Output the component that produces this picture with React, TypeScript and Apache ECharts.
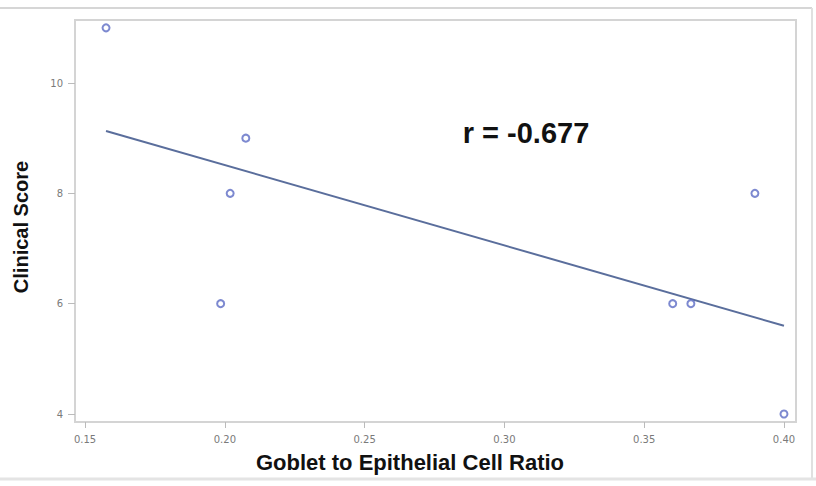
import React, { useEffect, useRef } from "react";
import * as echarts from "echarts";

const ratioValues = [0.1575, 0.2075, 0.2019, 0.1985, 0.3602, 0.3667, 0.3896, 0.4];
const scoreValues = [11, 9, 8, 6, 6, 6, 8, 4];
const fitX = [0.1575, 0.4];
const fitY = [9.13, 5.6];
const xTicks = [0.15, 0.2, 0.25, 0.3, 0.35, 0.4];
const yTicks = [4, 6, 8, 10];
const xTitle = "Goblet to Epithelial Cell Ratio";
const yTitle = "Clinical Score";
const rLabel = "r = -0.677";

export default function App() {
  const ref = useRef<HTMLDivElement>(null);
  useEffect(() => {
    document.body.style.margin = "0";
    const chart = echarts.init(ref.current!, null, { renderer: "svg" });
    const tickLabel = { color: "#7a7a7a", fontSize: 10, fontFamily: "DejaVu Sans" };
    chart.setOption({
      animation: false,
      backgroundColor: "#ffffff",
      grid: {
        left: 75,
        right: 20,
        top: 20,
        bottom: 64,
        show: true,
        borderColor: "#d4d4d4",
        borderWidth: 2,
      },
      xAxis: {
        type: "value",
        min: 0.1464,
        max: 0.4043,
        splitLine: { show: false },
        axisLine: { show: false },
        axisTick: { show: true, length: 6, lineStyle: { color: "#bbbbbb" }, customValues: xTicks },
        axisLabel: {
          ...tickLabel,
          margin: 12,
          customValues: xTicks,
          formatter: (v: number) => v.toFixed(2),
        },
      },
      yAxis: {
        type: "value",
        min: 3.855,
        max: 11.142,
        splitLine: { show: false },
        axisLine: { show: false },
        axisTick: { show: true, length: 7, lineStyle: { color: "#bbbbbb" }, customValues: yTicks },
        axisLabel: { ...tickLabel, margin: 12, customValues: yTicks },
      },
      graphic: [
        { type: "line", shape: { x1: 0, y1: 8, x2: 812, y2: 8 }, style: { stroke: "#d6d6d6", lineWidth: 2 } },
        { type: "line", shape: { x1: 812, y1: 8, x2: 812, y2: 479 }, style: { stroke: "#e0e0e0", lineWidth: 2 } },
        { type: "line", shape: { x1: 0, y1: 479, x2: 816, y2: 479 }, style: { stroke: "#e4e4e4", lineWidth: 3 } },
        {
          type: "text",
          x: 410,
          y: 462,
          style: {
            text: xTitle,
            fontSize: 22,
            fontWeight: "bold",
            fontFamily: "Liberation Sans",
            fill: "#111",
            align: "center",
            verticalAlign: "middle",
          },
        },
        {
          type: "text",
          x: 21,
          y: 227,
          rotation: Math.PI / 2,
          style: {
            text: yTitle,
            fontSize: 20,
            fontWeight: "bold",
            fontFamily: "Liberation Sans",
            fill: "#111",
            align: "center",
            verticalAlign: "middle",
          },
        },
        {
          type: "text",
          x: 526,
          y: 133,
          style: {
            text: rLabel,
            fontSize: 29,
            fontWeight: "bold",
            fontFamily: "Liberation Sans",
            fill: "#111",
            align: "center",
            verticalAlign: "middle",
          },
        },
      ],
      series: [
        {
          type: "line",
          data: fitX.map((x, i) => [x, fitY[i]]),
          symbol: "none",
          lineStyle: { color: "#5a6e9c", width: 2 },
          silent: true,
          z: 2,
        },
        {
          type: "scatter",
          data: ratioValues.map((x, i) => [x, scoreValues[i]]),
          symbol: "circle",
          symbolSize: 7,
          itemStyle: { color: "#ffffff", borderColor: "#5c6cc4", borderWidth: 2 },
          z: 3,
        },
      ],
    });
    return () => chart.dispose();
  }, []);
  return <div ref={ref} style={{ position: "fixed", left: 0, top: 0, width: 816, height: 486 }} />;
}
